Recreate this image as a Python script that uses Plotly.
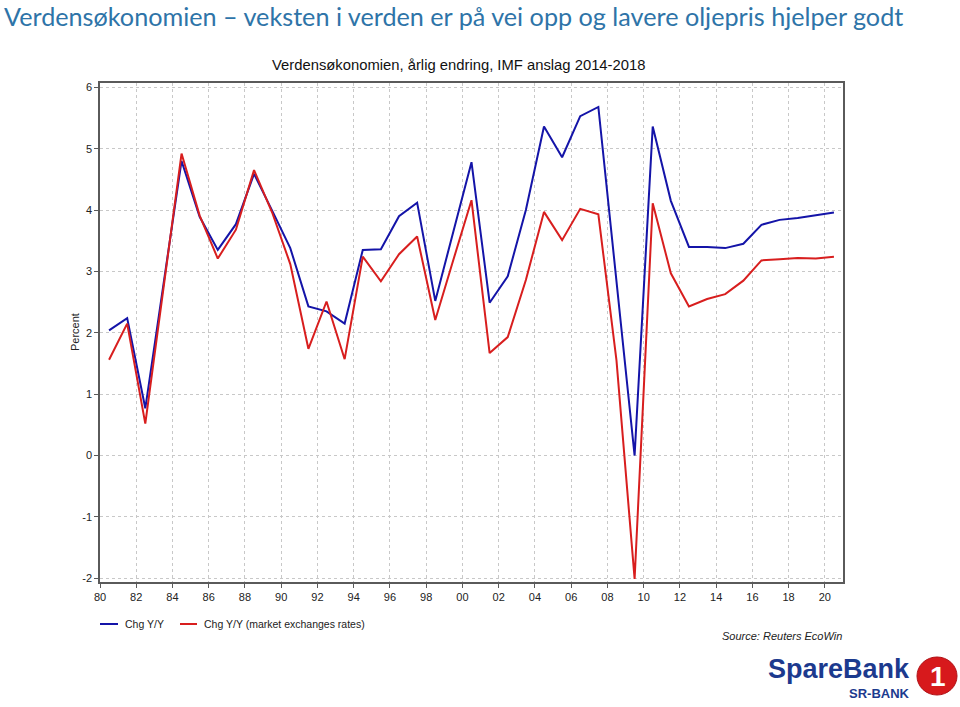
import plotly.graph_objects as go

years = list(range(1980, 2021))
chg_ppp = [2.04, 2.24, 0.77, 2.79, 4.80, 3.89, 3.35, 3.77, 4.59, 3.99,
           3.38, 2.43, 2.35, 2.15, 3.35, 3.36, 3.90, 4.12, 2.52, 3.65,
           4.78, 2.49, 2.92, 4.00, 5.36, 4.86, 5.53, 5.68, 2.88, 0.0,
           5.36, 4.15, 3.40, 3.40, 3.38, 3.45, 3.76, 3.84, 3.87, 3.92, 3.96]
chg_mer = [1.56, 2.15, 0.52, 2.70, 4.92, 3.91, 3.21, 3.68, 4.65, 3.96,
           3.12, 1.74, 2.51, 1.57, 3.24, 2.84, 3.28, 3.57, 2.21, 3.19,
           4.16, 1.67, 1.93, 2.86, 3.97, 3.51, 4.02, 3.93, 1.55, -2.01,
           4.11, 2.97, 2.43, 2.55, 2.63, 2.85, 3.18, 3.20, 3.22, 3.21, 3.24]
tick_years = list(range(1980, 2021, 2))
tick_labels = ["80", "82", "84", "86", "88", "90", "92", "94", "96", "98", "00",
               "02", "04", "06", "08", "10", "12", "14", "16", "18", "20"]
y_ticks = [-2, -1, 0, 1, 2, 3, 4, 5, 6]
y_tick_labels = ["-2", "-1", "0", "1", "2", "3", "4", "5", "6"]
series_names = ["Chg Y/Y", "Chg Y/Y (market exchanges rates)"]
series_colors = ["#1414A8", "#D81E1E"]

x_mid = [y + 0.5 for y in years]  # annual values plotted at mid-year

# plot area in pixels: x 100..843, y 83..582
L, R, T, B = 100, 843, 83, 582
W, H = R - L, B - T
def px(x): return (x - L) / W
def py(y): return (B - y) / H

fig = go.Figure()
for vals, name, col in zip([chg_ppp, chg_mer], series_names, series_colors):
    fig.add_trace(go.Scatter(x=x_mid, y=vals, mode="lines", name=name,
                             line=dict(color=col, width=2)))

axis_font = dict(family="Liberation Sans, Arial", size=11, color="#222222")
fig.update_layout(
    width=960, height=707,
    margin=dict(l=L, r=960 - R, t=T, b=707 - B),
    paper_bgcolor="white", plot_bgcolor="white",
    showlegend=False,
    xaxis=dict(range=[1980, 2021], tickvals=tick_years, ticktext=tick_labels,
               showgrid=True, gridcolor="#C8C8C8", griddash="dot", gridwidth=1,
               showline=True, linecolor="#5A5A5A", linewidth=1.5, mirror=True,
               ticks="outside", ticklen=4, tickcolor="#5A5A5A",
               tickfont=axis_font, zeroline=False),
    yaxis=dict(range=[-2.06, 6.07], tickvals=y_ticks, ticktext=y_tick_labels,
               showgrid=True, gridcolor="#C8C8C8", griddash="dot", gridwidth=1,
               showline=True, linecolor="#5A5A5A", linewidth=1.5, mirror=True,
               ticks="outside", ticklen=4, tickcolor="#5A5A5A",
               tickfont=axis_font, zeroline=False),
)

# Slide title
fig.add_annotation(text="Verdensøkonomien – veksten i verden er på vei opp og lavere oljepris hjelper godt",
                   xref="paper", yref="paper", x=px(2), y=py(16), xanchor="left", yanchor="middle",
                   showarrow=False, font=dict(family="Lato, Open Sans", size=25.2, color="#2E74A8"))
# Chart title
fig.add_annotation(text="Verdensøkonomien, årlig endring, IMF anslag 2014-2018",
                   xref="paper", yref="paper", x=px(458), y=py(65), xanchor="center", yanchor="middle",
                   showarrow=False, font=dict(family="Liberation Sans, Arial", size=14.8, color="#111111"))
# Y axis title
fig.add_annotation(text="Percent", textangle=-90,
                   xref="paper", yref="paper", x=px(75), y=py(332), xanchor="center", yanchor="middle",
                   showarrow=False, font=axis_font)
# Manual legend
leg_font = dict(family="Liberation Sans, Arial", size=10.5, color="#222222")
for (x0, x1, xt), name, col in zip([(100, 118, 123), (180, 197, 202)], series_names, series_colors):
    fig.add_shape(type="line", xref="paper", yref="paper", x0=px(x0), x1=px(x1),
                  y0=py(624), y1=py(624), line=dict(color=col, width=2))
    fig.add_annotation(text=name, xref="paper", yref="paper", x=px(xt), y=py(624),
                       xanchor="left", yanchor="middle", showarrow=False, font=leg_font)
# Source
fig.add_annotation(text="<i>Source: Reuters EcoWin</i>",
                   xref="paper", yref="paper", x=px(844), y=py(636), xanchor="right", yanchor="middle",
                   showarrow=False, font=dict(family="Liberation Sans, Arial", size=11, color="#222222"))
# Logo text
fig.add_annotation(text="<b>SpareBank</b>", xref="paper", yref="paper",
                   x=px(912), y=py(669), xanchor="right", yanchor="middle", showarrow=False,
                   font=dict(family="Liberation Sans, Arial", size=27, color="#1C3A8E"))
fig.add_annotation(text="<b>SR-BANK</b>", xref="paper", yref="paper",
                   x=px(912), y=py(693), xanchor="right", yanchor="middle", showarrow=False,
                   font=dict(family="Liberation Sans, Arial", size=13, color="#1C3A8E"))
# Logo circle
fig.add_shape(type="circle", xref="paper", yref="paper",
              x0=px(917), x1=px(957), y0=py(695), y1=py(657),
              fillcolor="#D7191C", line=dict(color="#B01015", width=1))
fig.add_annotation(text="<b>1</b>", xref="paper", yref="paper",
                   x=px(938), y=py(676), xanchor="center", yanchor="middle",
                   showarrow=False, font=dict(family="Liberation Sans, Arial", size=28, color="white"))

fig.write_html("out.html", config={"displayModeBar": False},
               post_script="document.body.style.margin='0px';document.body.style.padding='0px';")
